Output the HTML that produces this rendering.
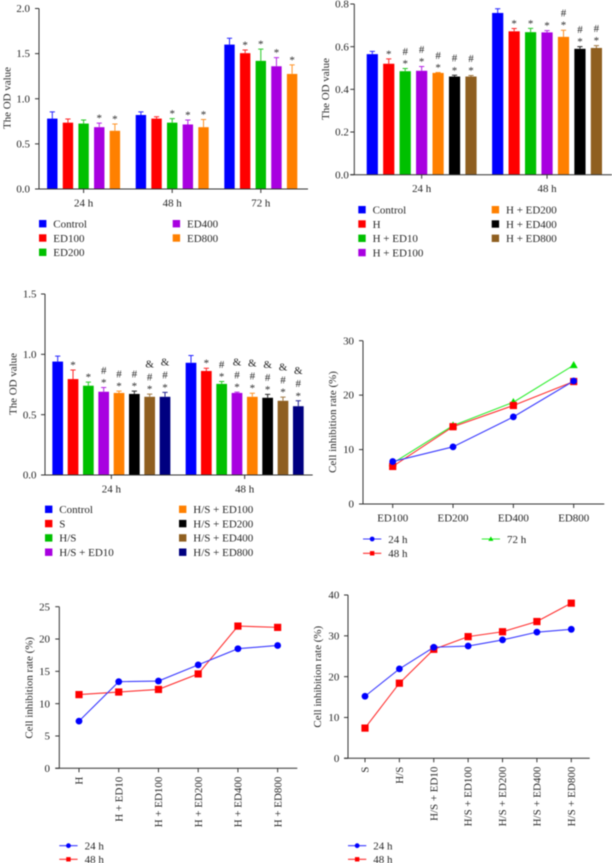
<!DOCTYPE html>
<html>
<head>
<meta charset="utf-8">
<title>Cell viability charts</title>
<style>
html,body{margin:0;padding:0;background:#fff;}
#figure{display:block;width:612px;height:863px;filter:blur(.42px);}
text{font-family:"Liberation Serif",serif;fill:#262626;}
</style>
</head>
<body>
<svg id="figure" xmlns="http://www.w3.org/2000/svg" width="612" height="863" viewBox="0 0 612 863"></svg>
<script>
// ---------- Chart A ----------
const chartAGroups = ['24 h', '48 h', '72 h'];
const chartASeries = ['Control', 'ED100', 'ED200', 'ED400', 'ED800'];
const chartAValues24 = [0.78, 0.735, 0.725, 0.685, 0.645];
const chartAValues48 = [0.82, 0.78, 0.735, 0.715, 0.685];
const chartAValues72 = [1.6, 1.505, 1.42, 1.36, 1.275];
const chartAUpper24 = [0.855, 0.775, 0.765, 0.73, 0.72];
const chartAUpper48 = [0.855, 0.80, 0.78, 0.765, 0.77];
const chartAUpper72 = [1.67, 1.54, 1.55, 1.455, 1.375];
const chartAMarks24 = ['', '', '', '*', '*'];
const chartAMarks48 = ['', '', '*', '*', '*'];
const chartAMarks72 = ['', '*', '*', '*', '*'];
const chartATicks = [0, 0.5, 1, 1.5, 2];

// ---------- Chart B ----------
const chartBGroups = ['24 h', '48 h'];
const chartBSeries = ['Control', 'H', 'H + ED10', 'H + ED100', 'H + ED200', 'H + ED400', 'H + ED800'];
const chartBValues24 = [0.565, 0.52, 0.485, 0.487, 0.477, 0.46, 0.46];
const chartBValues48 = [0.758, 0.672, 0.668, 0.667, 0.646, 0.59, 0.594];
const chartBUpper24 = [0.578, 0.543, 0.498, 0.507, 0.479, 0.466, 0.465];
const chartBUpper48 = [0.778, 0.685, 0.686, 0.675, 0.677, 0.6, 0.605];
const chartBMarks24 = ['', '*', '*#', '*#', '*#', '*#', '*#'];
const chartBMarks48 = ['', '*', '*', '*', '*#', '*#', '*#'];
const chartBTicks = [0, 0.2, 0.4, 0.6, 0.8];

// ---------- Chart C ----------
const chartCGroups = ['24 h', '48 h'];
const chartCSeries = ['Control', 'S', 'H/S', 'H/S + ED10', 'H/S + ED100', 'H/S + ED200', 'H/S + ED400', 'H/S + ED800'];
const chartCValues24 = [0.94, 0.795, 0.74, 0.69, 0.68, 0.672, 0.648, 0.648];
const chartCValues48 = [0.93, 0.862, 0.755, 0.68, 0.648, 0.64, 0.615, 0.57];
const chartCUpper24 = [0.985, 0.87, 0.77, 0.725, 0.695, 0.695, 0.67, 0.685];
const chartCUpper48 = [0.99, 0.885, 0.775, 0.687, 0.678, 0.668, 0.645, 0.615];
const chartCMarks24 = ['', '*', '*', '*#', '*#', '*#', '*#&', '*#&'];
const chartCMarks48 = ['', '*', '*#', '*#&', '*#&', '*#&', '*#&', '*#&'];
const chartCTicks = [0, 0.5, 1, 1.5];

// ---------- Chart D ----------
const chartDCategories = ['ED100', 'ED200', 'ED400', 'ED800'];
const chartD72h = [7.5, 14.4, 18.7, 25.5];
const chartD24h = [7.8, 10.5, 16, 22.6];
const chartD48h = [6.9, 14.2, 18.1, 22.5];
const chartDTicks = [0, 10, 20, 30];

// ---------- Chart E ----------
const chartECategories = ['H', 'H + ED10', 'H + ED100', 'H + ED200', 'H + ED400', 'H + ED800'];
const chartE24h = [7.3, 13.4, 13.5, 16, 18.5, 19];
const chartE48h = [11.4, 11.8, 12.2, 14.6, 22, 21.8];
const chartETicks = [0, 5, 10, 15, 20, 25];

// ---------- Chart F ----------
const chartFCategories = ['S', 'H/S', 'H/S + ED10', 'H/S + ED100', 'H/S + ED200', 'H/S + ED400', 'H/S + ED800'];
const chartF24h = [15.2, 21.9, 27.2, 27.5, 29, 30.9, 31.6];
const chartF48h = [7.4, 18.4, 26.7, 29.8, 31, 33.5, 38];
const chartFTicks = [0, 10, 20, 30, 40];

const NS = 'http://www.w3.org/2000/svg';
const root = document.getElementById('figure');
const AXIS = '#333';
const FONT = 10.95;
const paletteA = ['#0000ff', '#ff0000', '#00c000', '#a800e0', '#ff8000'];
const paletteB = ['#0000ff', '#ff0000', '#00c000', '#a800e0', '#ff8000', '#000000', '#8f5f20'];
const paletteC = ['#0000ff', '#ff0000', '#00c000', '#a800e0', '#ff8000', '#000000', '#8f5f20', '#000080'];

function make(parent, tag, attrs, txt) {
  const e = document.createElementNS(NS, tag);
  for (const k in attrs) e.setAttribute(k, attrs[k]);
  if (txt !== undefined) e.textContent = txt;
  parent.appendChild(e);
  return e;
}
function linear(d0, d1, r0, r1) {
  return v => r0 + (v - d0) * (r1 - r0) / (d1 - d0);
}
function fmt(t, dec) { return t.toFixed(dec); }

function drawAxes(g, o, yScale) {
  const yAxis = make(g, 'line', {x1: o.ax, x2: o.ax, y1: yScale(o.ticks[o.ticks.length - 1]), y2: yScale(0), stroke: AXIS, 'stroke-width': 1});
  
  
  const xAxis = make(g, 'line', {x1: o.ax - 4, x2: o.axEnd, y1: yScale(0), y2: yScale(0), stroke: AXIS, 'stroke-width': 1});
  
  
  o.ticks.forEach(t => {
    const y = yScale(t);
    const tk = make(g, 'line', {x1: o.ax - 4, x2: o.ax, y1: y, y2: y, stroke: AXIS, 'stroke-width': 1});
    
    
    const lb = make(g, 'text', {x: o.ax - o.labelGap, y: y + 3.6, 'text-anchor': 'end', 'font-size': FONT}, fmt(t, o.dec));
    
    
  });
  const title = make(g, 'text', {transform: 'translate(' + o.titleX + ',' + o.titleY + ') rotate(-90)', 'text-anchor': 'middle', 'font-size': FONT}, o.title);
  
  
}

function xTick(g, x, y) {
  const tk = make(g, 'line', {x1: x, x2: x, y1: y, y2: y + 4, stroke: AXIS, 'stroke-width': 1});
  
  
}

function barChart(name, o) {
  const g = make(root, 'g', {});
  
  
  const yScale = linear(0, o.ticks[o.ticks.length - 1], o.y0, o.yTop);
  const barX = (gi, si) => o.firstX + gi * o.groupStep + si * o.pitch;
  o.values.forEach((vals, gi) => {
    vals.forEach((v, si) => {
      const x = barX(gi, si), color = o.colors[si];
      const top = yScale(v), up = yScale(o.upper[gi][si]);
      const err = make(g, 'path', {d: 'M' + x + ' ' + top + 'V' + up + 'M' + (x - 2.6) + ' ' + up + 'H' + (x + 2.6), stroke: color, 'stroke-width': 1, fill: 'none', opacity: .85});
      
      
      const bar = make(g, 'rect', {x: x - o.barW / 2, y: top, width: o.barW, height: o.y0 - top, fill: color});
      
      
      const offs = {'*': 1.5, '#': 13.6, '&': 26.6};
      Array.from(o.marks[gi][si]).forEach(ch => {
        const m = make(g, 'text', {x: x, y: up - offs[ch], 'text-anchor': 'middle', 'font-size': 11}, ch);
        
        
      });
    });
    const cx = (barX(gi, 0) + barX(gi, vals.length - 1)) / 2;
    xTick(g, cx, o.y0);
    const lb = make(g, 'text', {x: cx, y: o.y0 + 17.5, 'text-anchor': 'middle', 'font-size': FONT}, o.groups[gi]);
    
    
  });
  drawAxes(g, o, yScale);
  o.series.forEach((s, i) => {
    const col = i < o.legendRows ? 0 : 1;
    const row = col === 0 ? i : i - o.legendRows;
    const lx = o.legendX[col], ly = o.legendY + row * 14.3;
    const it = make(g, 'g', {});
    
    
    make(it, 'rect', {x: lx, y: ly - 3.7, width: 7.4, height: 7.4, fill: o.colors[i]});
    make(it, 'text', {x: lx + 14.3, y: ly + 3.8, 'font-size': 11}, s);
  });
}

function marker(g, type, x, y, s, color) {
  if (type === 'circle') return make(g, 'circle', {cx: x, cy: y, r: s / 2, fill: color});
  if (type === 'square') return make(g, 'rect', {x: x - s / 2, y: y - s / 2, width: s, height: s, fill: color});
  return make(g, 'path', {d: 'M' + x + ' ' + (y - s * .6) + 'L' + (x + s * .58) + ' ' + (y + s * .42) + 'L' + (x - s * .58) + ' ' + (y + s * .42) + 'Z', fill: color});
}

function lineChart(name, o) {
  const g = make(root, 'g', {});
  
  
  const yScale = linear(0, o.ticks[o.ticks.length - 1], o.y0, o.yTop);
  const xScale = i => o.firstX + i * o.stepX;
  drawAxes(g, o, yScale);
  o.categories.forEach((c, i) => {
    const x = xScale(i);
    xTick(g, x, o.y0);
    let lb;
    if (o.rotated) {
      lb = make(g, 'text', {transform: 'translate(' + (x + 3.6) + ',' + (o.y0 + 8.4) + ') rotate(-90)', 'text-anchor': 'end', 'font-size': FONT}, c);
    } else {
      lb = make(g, 'text', {x: x, y: o.y0 + 17.5, 'text-anchor': 'middle', 'font-size': FONT}, c);
    }
    
    
  });
  o.lines.forEach(s => {
    const pts = s.values.map((v, i) => xScale(i) + ',' + yScale(v)).join(' ');
    const pl = make(g, 'polyline', {points: pts, fill: 'none', stroke: s.line, 'stroke-width': 1.1});
    
    
    s.values.forEach((v, i) => {
      const m = marker(g, s.type, xScale(i), yScale(v), s.size, s.color);
      
      
    });
    const it = make(g, 'g', {});
    
    
    make(it, 'line', {x1: s.lx, x2: s.lx + 18.3, y1: s.ly, y2: s.ly, stroke: s.line, 'stroke-width': 1.1});
    marker(it, s.type, s.lx + 9.15, s.ly, s.type === 'circle' ? 4.8 : 4.4, s.color);
    make(it, 'text', {x: s.lx + 25.3, y: s.ly + 3.8, 'font-size': 11}, s.name);
  });
}

barChart('chart-a', {
  groups: chartAGroups, series: chartASeries, colors: paletteA,
  values: [chartAValues24, chartAValues48, chartAValues72],
  upper: [chartAUpper24, chartAUpper48, chartAUpper72],
  marks: [chartAMarks24, chartAMarks48, chartAMarks72],
  ticks: chartATicks, dec: 1, y0: 189, yTop: 8.5, ax: 39, axEnd: 308, labelGap: 9,
  firstX: 52.3, pitch: 15.65, groupStep: 88.6, barW: 10.4,
  title: 'The OD value', titleX: 10.5, titleY: 98,
  legendX: [39, 172.7], legendY: 223.7, legendRows: 3
});
barChart('chart-b', {
  groups: chartBGroups, series: chartBSeries, colors: paletteB,
  values: [chartBValues24, chartBValues48],
  upper: [chartBUpper24, chartBUpper48],
  marks: [chartBMarks24, chartBMarks48],
  ticks: chartBTicks, dec: 1, y0: 174.7, yTop: 4, ax: 354.3, axEnd: 612, labelGap: 5.5,
  firstX: 372.3, pitch: 16.45, groupStep: 125.4, barW: 11.2,
  title: 'The OD value', titleX: 329, titleY: 89,
  legendX: [358.3, 491.7], legendY: 209.7, legendRows: 4
});
barChart('chart-c', {
  groups: chartCGroups, series: chartCSeries, colors: paletteC,
  values: [chartCValues24, chartCValues48],
  upper: [chartCUpper24, chartCUpper48],
  marks: [chartCMarks24, chartCMarks48],
  ticks: chartCTicks, dec: 1, y0: 475, yTop: 294, ax: 45, axEnd: 312.7, labelGap: 8.5,
  firstX: 57.7, pitch: 15.33, groupStep: 133.3, barW: 10.7,
  title: 'The OD value', titleX: 16.5, titleY: 384,
  legendX: [45, 179], legendY: 509.3, legendRows: 4
});
lineChart('chart-d', {
  categories: chartDCategories, ticks: chartDTicks, dec: 0,
  y0: 504, yTop: 340.7, ax: 363, axEnd: 604.3, labelGap: 9,
  firstX: 392.7, stepX: 60.33, rotated: false,
  title: 'Cell inhibition rate (%)', titleX: 336, titleY: 422,
  lines: [
    {name: '72 h', values: chartD72h, color: '#00e000', line: '#30ee30', type: 'triangle', size: 7, lx: 481.7, ly: 539},
    {name: '48 h', values: chartD48h, color: '#ff0000', line: '#ff3030', type: 'square', size: 7.2, lx: 363, ly: 553.3},
    {name: '24 h', values: chartD24h, color: '#0000ff', line: '#3a3aff', type: 'circle', size: 6.8, lx: 363, ly: 539}
  ]
});
lineChart('chart-e', {
  categories: chartECategories, ticks: chartETicks, dec: 0,
  y0: 768.3, yTop: 606.7, ax: 59.3, axEnd: 297.3, labelGap: 9.3,
  firstX: 79, stepX: 39.73, rotated: true,
  title: 'Cell inhibition rate (%)', titleX: 32.5, titleY: 687.8,
  lines: [
    {name: '48 h', values: chartE48h, color: '#ff0000', line: '#ff3030', type: 'square', size: 7.2, lx: 59.3, ly: 859.3},
    {name: '24 h', values: chartE24h, color: '#0000ff', line: '#3a3aff', type: 'circle', size: 6.8, lx: 59.3, ly: 845.7}
  ]
});
lineChart('chart-f', {
  categories: chartFCategories, ticks: chartFTicks, dec: 0,
  y0: 758.3, yTop: 595, ax: 348, axEnd: 589.7, labelGap: 8.7,
  firstX: 365, stepX: 34.38, rotated: true,
  title: 'Cell inhibition rate (%)', titleX: 321, titleY: 676.7,
  lines: [
    {name: '48 h', values: chartF48h, color: '#ff0000', line: '#ff3030', type: 'square', size: 7.2, lx: 348, ly: 859.3},
    {name: '24 h', values: chartF24h, color: '#0000ff', line: '#3a3aff', type: 'circle', size: 6.8, lx: 348, ly: 845.7}
  ]
});
</script>
</body>
</html>
